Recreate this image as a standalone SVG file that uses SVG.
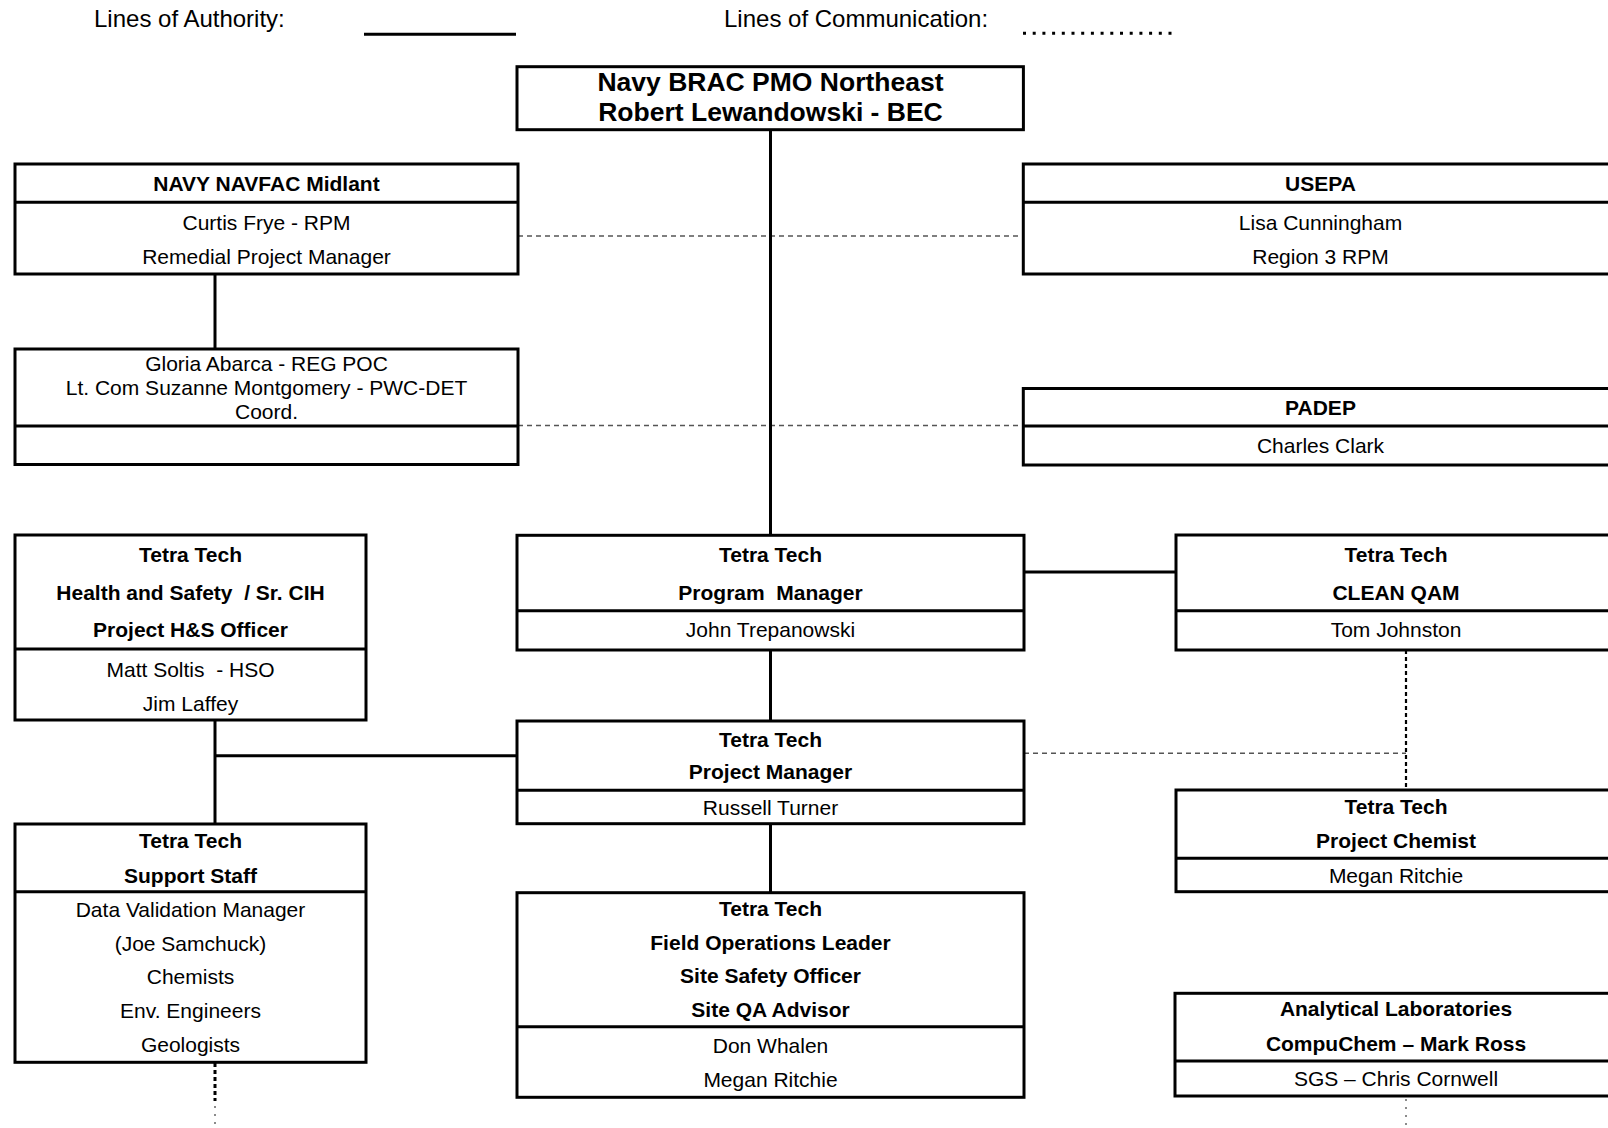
<svg xmlns="http://www.w3.org/2000/svg" width="1608" height="1128" viewBox="0 0 1608 1128">
<style>
text{font-family:"Liberation Sans",Arial,Helvetica,sans-serif;font-size:21px;fill:#000;text-anchor:middle}
.b{font-weight:bold}
.t{font-weight:bold;font-size:26.5px}
.leg{font-size:24px;text-anchor:start}
.box{fill:#fff;stroke:#000;stroke-width:3}
.div{stroke:#000;stroke-width:3}
.solid{stroke:#000;stroke-width:3;fill:none}
.comm{stroke:#555;stroke-width:1.4;stroke-dasharray:5 4;fill:none}
.commb{stroke:#000;stroke-width:2.2;stroke-dasharray:4 3;fill:none}
.dots{stroke:#666;stroke-width:1.5;stroke-dasharray:2 6;fill:none}
</style>
<rect width="1608" height="1128" fill="#fff"/>
<g id="legend">
<text class="leg" x="94" y="26.5">Lines of Authority:</text>
<line class="solid" x1="364" y1="34.3" x2="516" y2="34.3"/>
<text class="leg" x="724" y="26.5">Lines of Communication:</text>
<line x1="1023" y1="33.3" x2="1178" y2="33.3" stroke="#000" stroke-width="3" stroke-dasharray="3 6.7"/>
</g>
<g id="connectors">
<line class="comm" x1="518" y1="236" x2="1023" y2="236"/>
<line class="comm" x1="518" y1="425.5" x2="1023" y2="425.5"/>
<line class="solid" x1="770.5" y1="130" x2="770.5" y2="535"/>
<line class="solid" x1="215" y1="274" x2="215" y2="349"/>
<line class="solid" x1="1024" y1="572" x2="1176" y2="572"/>
<line class="solid" x1="770.5" y1="650" x2="770.5" y2="721"/>
<polyline class="solid" points="215,720 215,824"/>
<line class="solid" x1="215" y1="755.7" x2="517" y2="755.7"/>
<line class="solid" x1="770.5" y1="824" x2="770.5" y2="893"/>
<line class="comm" x1="1024" y1="753.3" x2="1406" y2="753.3"/>
<line class="commb" x1="1406" y1="650" x2="1406" y2="790"/>
<line x1="215" y1="1063" x2="215" y2="1101" stroke="#000" stroke-width="3" stroke-dasharray="4 3"/>
<line class="dots" x1="215" y1="1106" x2="215" y2="1126"/>
<line class="dots" x1="1406" y1="1099" x2="1406" y2="1126"/>
</g>
<g id="bracpmo">
<rect class="box" x="517" y="66.7" width="506.4" height="63"/>
<text class="t" x="770.5" y="91">Navy BRAC PMO Northeast</text>
<text class="t" x="770.5" y="121">Robert Lewandowski - BEC</text>
</g>
<g id="navfac">
<rect class="box" x="15" y="164" width="503" height="110"/>
<line class="div" x1="15" y1="202.3" x2="518" y2="202.3"/>
<text class="b" x="266.5" y="191">NAVY NAVFAC Midlant</text>
<text x="266.5" y="229.5">Curtis Frye - RPM</text>
<text x="266.5" y="263.5">Remedial Project Manager</text>
</g>
<g id="usepa">
<rect class="box" x="1023.3" y="164" width="595" height="110"/>
<line class="div" x1="1023.3" y1="202.3" x2="1618" y2="202.3"/>
<text class="b" x="1320.5" y="191">USEPA</text>
<text x="1320.5" y="229.5">Lisa Cunningham</text>
<text x="1320.5" y="263.5">Region 3 RPM</text>
</g>
<g id="regpoc">
<rect class="box" x="15" y="349" width="503" height="115.5"/>
<line class="div" x1="15" y1="426" x2="518" y2="426"/>
<text x="266.5" y="370.5">Gloria Abarca - REG POC</text>
<text x="266.5" y="395">Lt. Com Suzanne Montgomery - PWC-DET</text>
<text x="266.5" y="419.3">Coord.</text>
</g>
<g id="padep">
<rect class="box" x="1023.3" y="388.5" width="595" height="76.5"/>
<line class="div" x1="1023.3" y1="426" x2="1618" y2="426"/>
<text class="b" x="1320.5" y="414.5">PADEP</text>
<text x="1320.5" y="453">Charles Clark</text>
</g>
<g id="hs">
<rect class="box" x="15" y="535" width="351" height="185"/>
<line class="div" x1="15" y1="649" x2="366" y2="649"/>
<text class="b" x="190.5" y="561.7">Tetra Tech</text>
<text class="b" x="190.5" y="599.5" xml:space="preserve">Health and Safety  / Sr. CIH</text>
<text class="b" x="190.5" y="637">Project H&amp;S Officer</text>
<text x="190.5" y="676.5" xml:space="preserve">Matt Soltis  - HSO</text>
<text x="190.5" y="710.5">Jim Laffey</text>
</g>
<g id="progmgr">
<rect class="box" x="517" y="535.3" width="507" height="114.7"/>
<line class="div" x1="517" y1="610.7" x2="1024" y2="610.7"/>
<text class="b" x="770.5" y="561.7">Tetra Tech</text>
<text class="b" x="770.5" y="599.5" xml:space="preserve">Program  Manager</text>
<text x="770.5" y="637">John Trepanowski</text>
</g>
<g id="cleanqam">
<rect class="box" x="1176" y="535" width="442" height="115"/>
<line class="div" x1="1176" y1="610.7" x2="1618" y2="610.7"/>
<text class="b" x="1396" y="561.7">Tetra Tech</text>
<text class="b" x="1396" y="599.5">CLEAN QAM</text>
<text x="1396" y="637">Tom Johnston</text>
</g>
<g id="projmgr">
<rect class="box" x="517" y="721" width="507" height="102.7"/>
<line class="div" x1="517" y1="790.3" x2="1024" y2="790.3"/>
<text class="b" x="770.5" y="746.5">Tetra Tech</text>
<text class="b" x="770.5" y="779.3">Project Manager</text>
<text x="770.5" y="814.5">Russell Turner</text>
</g>
<g id="chemist">
<rect class="box" x="1176" y="790" width="442" height="101.7"/>
<line class="div" x1="1176" y1="858.3" x2="1618" y2="858.3"/>
<text class="b" x="1396" y="814.3">Tetra Tech</text>
<text class="b" x="1396" y="848">Project Chemist</text>
<text x="1396" y="882.5">Megan Ritchie</text>
</g>
<g id="support">
<rect class="box" x="15" y="824" width="351" height="238.3"/>
<line class="div" x1="15" y1="891.7" x2="366" y2="891.7"/>
<text class="b" x="190.5" y="848.3">Tetra Tech</text>
<text class="b" x="190.5" y="882.5">Support Staff</text>
<text x="190.5" y="917">Data Validation Manager</text>
<text x="190.5" y="950.5">(Joe Samchuck)</text>
<text x="190.5" y="984">Chemists</text>
<text x="190.5" y="1018">Env. Engineers</text>
<text x="190.5" y="1052">Geologists</text>
</g>
<g id="fieldops">
<rect class="box" x="517" y="892.7" width="507" height="204.6"/>
<line class="div" x1="517" y1="1026.7" x2="1024" y2="1026.7"/>
<text class="b" x="770.5" y="916">Tetra Tech</text>
<text class="b" x="770.5" y="950">Field Operations Leader</text>
<text class="b" x="770.5" y="983.3">Site Safety Officer</text>
<text class="b" x="770.5" y="1016.5">Site QA Advisor</text>
<text x="770.5" y="1052.5">Don Whalen</text>
<text x="770.5" y="1086.5">Megan Ritchie</text>
</g>
<g id="labs">
<rect class="box" x="1175" y="993.3" width="443" height="102.7"/>
<line class="div" x1="1175" y1="1061" x2="1618" y2="1061"/>
<text class="b" x="1396" y="1015.7">Analytical Laboratories</text>
<text class="b" x="1396" y="1050.5">CompuChem – Mark Ross</text>
<text x="1396" y="1086">SGS – Chris Cornwell</text>
</g>
</svg>
